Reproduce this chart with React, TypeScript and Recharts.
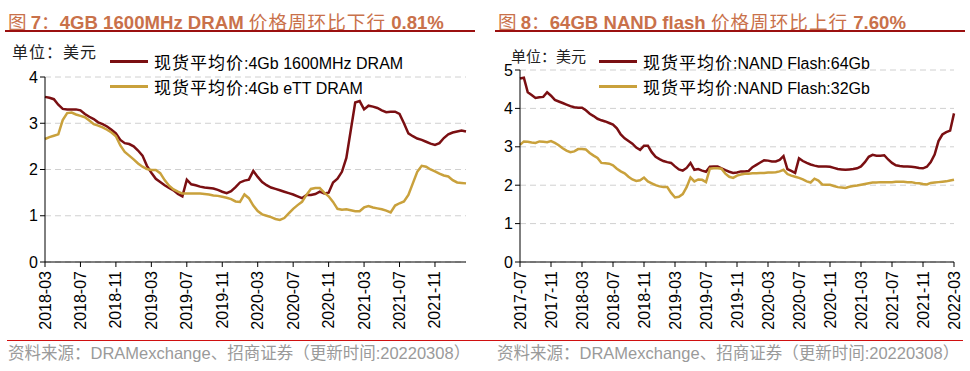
import { LineChart, Line, XAxis, YAxis, CartesianGrid } from "recharts";

// half-month steps starting 2018-03
const dramTicks = ["2018-03", "2018-07", "2018-11", "2019-03", "2019-07", "2019-11", "2020-03", "2020-07", "2020-11", "2021-03", "2021-07", "2021-11"];
const dram1600 = [
  3.57, 3.55, 3.52, 3.40, 3.31, 3.30, 3.30, 3.30, 3.28, 3.20,
  3.14, 3.09, 3.02, 2.98, 2.93, 2.86, 2.78, 2.64, 2.57, 2.55,
  2.50, 2.41, 2.30, 2.08, 1.93, 1.80, 1.73, 1.66, 1.60, 1.55,
  1.47, 1.42, 1.78, 1.68, 1.66, 1.63, 1.61, 1.60, 1.59, 1.56,
  1.52, 1.49, 1.53, 1.62, 1.72, 1.76, 1.78, 1.97, 1.84, 1.73,
  1.66, 1.61, 1.58, 1.55, 1.52, 1.49, 1.46, 1.42, 1.38, 1.45,
  1.45, 1.47, 1.52, 1.48, 1.50, 1.72, 1.80, 1.95, 2.25, 2.85,
  3.45, 3.48, 3.30, 3.38, 3.36, 3.33, 3.28, 3.24, 3.25, 3.25,
  3.20, 3.00, 2.78, 2.72, 2.67, 2.64, 2.60, 2.56, 2.53, 2.57,
  2.68, 2.76, 2.80, 2.82, 2.84, 2.82,
];
const dramEtt = [
  2.66, 2.70, 2.73, 2.76, 3.07, 3.22, 3.23, 3.19, 3.16, 3.13,
  3.06, 2.98, 2.95, 2.91, 2.86, 2.80, 2.72, 2.52, 2.38, 2.30,
  2.22, 2.13, 2.06, 2.01, 1.99, 1.99, 1.92, 1.77, 1.65, 1.57,
  1.52, 1.48, 1.48, 1.48, 1.48, 1.48, 1.47, 1.46, 1.44, 1.43,
  1.41, 1.39, 1.36, 1.31, 1.30, 1.46, 1.38, 1.22, 1.10, 1.03,
  1.00, 0.97, 0.93, 0.91, 0.95, 1.05, 1.15, 1.23, 1.30, 1.45,
  1.58, 1.60, 1.60, 1.50, 1.42, 1.30, 1.15, 1.13, 1.14, 1.12,
  1.10, 1.10, 1.18, 1.21, 1.18, 1.16, 1.14, 1.11, 1.07, 1.22,
  1.27, 1.31, 1.45, 1.70, 1.95, 2.08, 2.06, 2.00, 1.96, 1.91,
  1.87, 1.85, 1.77, 1.72, 1.71, 1.70,
];

// half-month steps starting 2017-07
const nandTicks = ["2017-07", "2017-11", "2018-03", "2018-07", "2018-11", "2019-03", "2019-07", "2019-11", "2020-03", "2020-07", "2020-11", "2021-03", "2021-07", "2021-11", "2022-03"];
const nand64 = [
  4.78, 4.80, 4.42, 4.35, 4.27, 4.29, 4.30, 4.42, 4.33, 4.22,
  4.18, 4.14, 4.10, 4.06, 4.03, 4.02, 4.02, 3.95, 3.86, 3.80,
  3.73, 3.69, 3.66, 3.62, 3.58, 3.48, 3.32, 3.22, 3.15, 3.08,
  2.98, 2.92, 3.03, 3.03, 2.86, 2.74, 2.68, 2.63, 2.60, 2.58,
  2.49, 2.41, 2.38, 2.45, 2.58, 2.40, 2.42, 2.38, 2.35, 2.48,
  2.49, 2.49, 2.44, 2.39, 2.35, 2.32, 2.33, 2.36, 2.36, 2.37,
  2.47, 2.53, 2.59, 2.65, 2.64, 2.62, 2.62, 2.66, 2.76, 2.42,
  2.37, 2.32, 2.70, 2.63, 2.58, 2.54, 2.51, 2.49, 2.49, 2.49,
  2.48, 2.45, 2.42, 2.41, 2.40, 2.41, 2.42, 2.44, 2.49, 2.60,
  2.74, 2.79, 2.77, 2.77, 2.78, 2.67, 2.58, 2.52, 2.50, 2.49,
  2.49, 2.48, 2.47, 2.45, 2.44, 2.48, 2.60, 2.80, 3.15, 3.32,
  3.38, 3.42, 3.87,
];
const nand32 = [
  3.05, 3.14, 3.13, 3.11, 3.10, 3.14, 3.13, 3.12, 3.15, 3.10,
  3.04, 2.96, 2.90, 2.86, 2.88, 2.94, 2.94, 2.93, 2.84, 2.77,
  2.71, 2.58, 2.57, 2.56, 2.52, 2.43, 2.36, 2.31, 2.22, 2.15,
  2.11, 2.13, 2.20, 2.10, 2.05, 2.00, 1.97, 1.95, 1.95, 1.80,
  1.68, 1.70, 1.77, 1.95, 2.20, 2.10, 2.15, 2.14, 2.08, 2.43,
  2.44, 2.44, 2.43, 2.30, 2.22, 2.19, 2.25, 2.28, 2.30, 2.30,
  2.31, 2.31, 2.32, 2.32, 2.33, 2.33, 2.34, 2.36, 2.40, 2.29,
  2.25, 2.22, 2.19, 2.15, 2.10, 2.07, 2.17, 2.12, 2.02, 2.01,
  2.01, 1.98, 1.95, 1.94, 1.93, 1.96, 1.98, 1.99, 2.01, 2.03,
  2.05, 2.07, 2.07, 2.08, 2.08, 2.08, 2.08, 2.09, 2.09, 2.09,
  2.08, 2.08, 2.06, 2.05, 2.03, 2.02, 2.06, 2.07, 2.08, 2.09,
  2.10, 2.12, 2.14,
];

const RED = "#7a0f12";
const GOLD = "#c9a13c";
const TITLE = "#c9714a";
const FONT = "Arial, 'Liberation Sans', 'Noto Sans CJK SC', sans-serif";
const CJK = "'Noto Sans CJK SC', sans-serif";

const dramData = dram1600.map((v, i) => ({ m: i / 2, a: v, b: dramEtt[i] }));
const nandData = nand64.map((v, i) => ({ m: i / 2, a: v, b: nand32[i] }));

function makeTick(labels: string[]) {
  return (props: any) => {
    const { x, y, payload } = props;
    return (
      <text
        transform={`translate(${x},${y + 2}) rotate(-90)`}
        textAnchor="end"
        dominantBaseline="central"
        fontSize={16}
        fontFamily={FONT}
        fill="#000"
      >
        {labels[Math.round(payload.value / 4)]}
      </text>
    );
  };
}

function LegendBox({ left, top, items }: any) {
  return (
    <div style={{ position: "absolute", left, top }}>
      {items.map((p: any) => (
        <div key={p.name} style={{ display: "flex", alignItems: "center", height: 25 }}>
          <div style={{ width: 38, height: 3, background: p.color, marginRight: 6 }} />
          <span style={{ fontSize: 16, fontFamily: FONT, color: "#000", whiteSpace: "nowrap" }}>
            <span style={{ fontFamily: CJK, fontSize: 17, letterSpacing: 1 }}>现货平均价</span>
            {p.name}
          </span>
        </div>
      ))}
    </div>
  );
}

function Title({ left, width, num, latin, cn, pct }: any) {
  return (
    <div style={{ position: "absolute", left, top: 0, width }}>
      <div style={{ position: "absolute", left: 3, top: 7, whiteSpace: "nowrap", color: TITLE, fontFamily: FONT, fontSize: 18.6, fontWeight: 700 }}>
        <span style={{ fontFamily: CJK, fontWeight: 400 }}>图 </span>
        {num}
        <span style={{ fontFamily: CJK, fontWeight: 400 }}>：</span>
        {latin}
        <span style={{ fontFamily: CJK, fontWeight: 400, letterSpacing: 1 }}> {cn} </span>
        {pct}
      </div>
      <div style={{ position: "absolute", left: 0, top: 30, width, height: 2, background: "#9b1010" }} />
    </div>
  );
}

export default function App() {
  return (
    <div style={{ position: "fixed", left: 0, top: 0, width: 970, height: 371, background: "#fff", overflow: "hidden" }}>
      <Title left={5} width={470} num="7" latin="4GB 1600MHz DRAM" cn="价格周环比下行" pct="0.81%" />
      <Title left={495} width={470} num="8" latin="64GB NAND flash" cn="价格周环比上行" pct="7.60%" />

      <div style={{ position: "absolute", left: 0, top: 0 }}>
        <LineChart width={485} height={371} data={dramData} margin={{ top: 77, right: 19, left: 15, bottom: 39 }}>
          <CartesianGrid horizontal vertical={false} stroke="#d0d0d0" strokeDasharray="6 4" />
          <XAxis
            dataKey="m"
            type="number"
            domain={[0, 47.5]}
            ticks={dramTicks.map((_, i) => i * 4)}
            tick={makeTick(dramTicks)}
            tickSize={5}
            height={70}
            interval={0}
            stroke="#000"
          />
          <YAxis
            domain={[0, 4]}
            ticks={[0, 1, 2, 3, 4]}
            width={30}
            tickSize={5}
            stroke="#000"
            tick={{ fontSize: 16, fill: "#000", fontFamily: FONT }}
          />
          <Line dataKey="a" stroke={RED} strokeWidth={2.5} dot={false} isAnimationActive={false} />
          <Line dataKey="b" stroke={GOLD} strokeWidth={2.5} dot={false} isAnimationActive={false} />
        </LineChart>
      </div>

      <div style={{ position: "absolute", left: 485, top: 0 }}>
        <LineChart width={485} height={371} data={nandData} margin={{ top: 70, right: 16, left: 10, bottom: 39 }}>
          <CartesianGrid horizontal vertical={false} stroke="#d0d0d0" strokeDasharray="6 4" />
          <XAxis
            dataKey="m"
            type="number"
            domain={[0, 56]}
            ticks={nandTicks.map((_, i) => i * 4)}
            tick={makeTick(nandTicks)}
            tickSize={5}
            height={70}
            interval={0}
            stroke="#000"
          />
          <YAxis
            domain={[0, 5]}
            ticks={[0, 1, 2, 3, 4, 5]}
            width={25}
            tickSize={5}
            stroke="#000"
            tick={{ fontSize: 16, fill: "#000", fontFamily: FONT }}
          />
          <Line dataKey="a" stroke={RED} strokeWidth={2.5} dot={false} isAnimationActive={false} />
          <Line dataKey="b" stroke={GOLD} strokeWidth={2.5} dot={false} isAnimationActive={false} />
        </LineChart>
      </div>

      <div style={{ position: "absolute", left: 12, top: 39, fontFamily: CJK, fontSize: 16, letterSpacing: 1, color: "#222" }}>单位：美元</div>
      <div style={{ position: "absolute", left: 511, top: 45, fontFamily: CJK, fontSize: 15, letterSpacing: 0, color: "#222" }}>单位：美元</div>

      <LegendBox left={110} top={49} items={[{ name: ":4Gb 1600MHz DRAM", color: RED }, { name: ":4Gb eTT DRAM", color: GOLD }]} />
      <LegendBox left={599} top={49} items={[{ name: ":NAND Flash:64Gb", color: RED }, { name: ":NAND Flash:32Gb", color: GOLD }]} />

      <div style={{ position: "absolute", left: 7, top: 340, width: 956, height: 1, background: "#d01010" }} />
      <div style={{ position: "absolute", left: 8, top: 342, fontFamily: FONT, fontSize: 16.5, lineHeight: "22px", color: "#9a9a9a", whiteSpace: "nowrap" }}>
        资料来源：DRAMexchange、招商证券（更新时间:20220308）
      </div>
      <div style={{ position: "absolute", left: 497, top: 342, fontFamily: FONT, fontSize: 16.5, lineHeight: "22px", color: "#9a9a9a", whiteSpace: "nowrap" }}>
        资料来源：DRAMexchange、招商证券（更新时间:20220308）
      </div>
    </div>
  );
}
